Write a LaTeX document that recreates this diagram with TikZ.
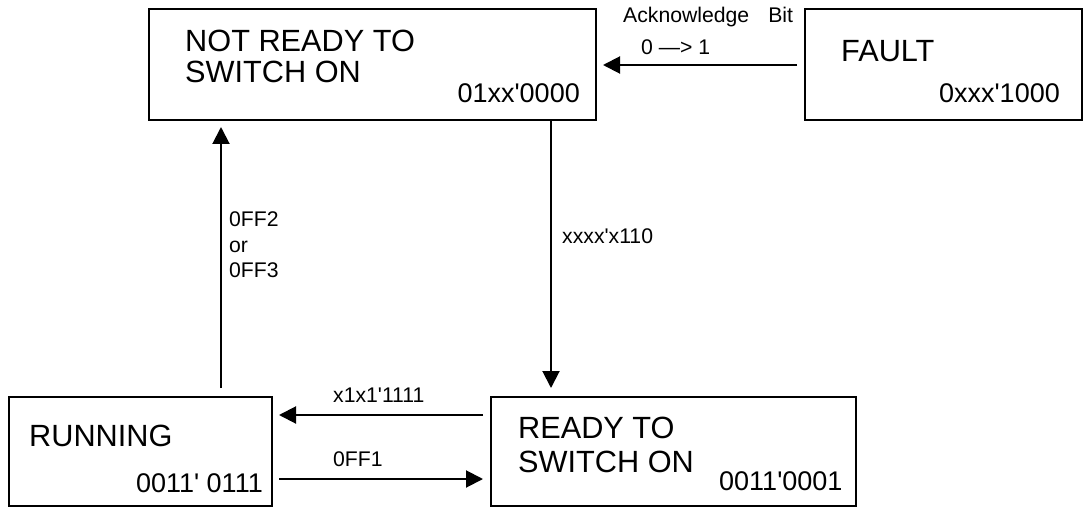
\documentclass[tikz,border=0pt]{standalone}
\usepackage{fontspec}
\setmainfont{Liberation Sans}[Ligatures=TeXOff]
\usetikzlibrary{arrows.meta}

\tikzset{
  statebox/.style={draw, line width=2pt, rectangle, inner sep=0pt, outer sep=0pt, anchor=north west},
  title/.style={inner sep=0pt, font=\fontsize{30.7}{31}\selectfont},
  code/.style={inner sep=0pt, font=\fontsize{27}{27}\selectfont},
  lbl/.style={inner sep=0pt, font=\fontsize{21.2}{22}\selectfont, anchor=base west},
  arr/.style={line width=2pt, -{Triangle[length=17pt,width=17pt]}},
}

\begin{document}
\begin{tikzpicture}[x=1pt, y=-1pt]
\useasboundingbox (0,0) rectangle (1085,508);

% states
\node[statebox, minimum width=447pt, minimum height=111pt] (nr) at (149,9) {};
\node[statebox, minimum width=277pt, minimum height=111pt] (fault) at (805,9) {};
\node[statebox, minimum width=263pt, minimum height=109pt] (run) at (9,397) {};
\node[statebox, minimum width=365pt, minimum height=109pt] (ready) at (491,397) {};

% state texts
\node[title, anchor=base west] (nrA) at (185,52) {NOT READY TO};
\node[title, anchor=base west] (nrB) at (185,83) {SWITCH ON};
\node[code, anchor=base east] (nrC) at (580,103) {01xx'0000};

\node[title, anchor=base west] (faultA) at (841,62) {FAULT};
\node[code, anchor=base east] (faultC) at (1060,103) {0xxx'1000};

\node[title, anchor=base west] (runA) at (29,446) {RUNNING};
\node[code, anchor=base east] (runC) at (263,492) {0011' 0111};

\node[title, anchor=base west] (readyA) at (518,438) {READY TO};
\node[title, anchor=base west] (readyB) at (518,472) {SWITCH ON};
\node[code, anchor=base west] (readyC) at (719,490) {0011'0001};

% transitions
\draw[arr, shorten <=8pt, shorten >=7pt] (fault.west |- 0,65) -- (nr.east |- 0,65);
\draw[arr, shorten >=9pt] (nr.south -| 551,0) -- (ready.north -| 551,0);
\draw[arr, shorten <=9pt, shorten >=7pt] (run.north -| 221,0) -- (nr.south -| 221,0);
\draw[arr, shorten <=8pt, shorten >=7pt] (ready.west |- 0,415) -- (run.east |- 0,415);
\draw[arr, shorten <=7pt, shorten >=8pt] (run.east |- 0,479) -- (ready.west |- 0,479);

% transition labels
\node[lbl] (ackA) at (623,23) {Acknowledge\hspace{19pt}Bit};
\node[lbl] (ackB) at (641,55) {0 —> 1};
\node[lbl] (tDown) at (562,243) {xxxx'x110};
\node[lbl] (tUpA) at (229,226) {0FF2};
\node[lbl] (tUpB) at (229,252) {or};
\node[lbl] (tUpC) at (229,277) {0FF3};
\node[lbl] (tLeft) at (333,402) {x1x1'1111};
\node[lbl] (tRight) at (333,466) {0FF1};
\end{tikzpicture}
\end{document}
